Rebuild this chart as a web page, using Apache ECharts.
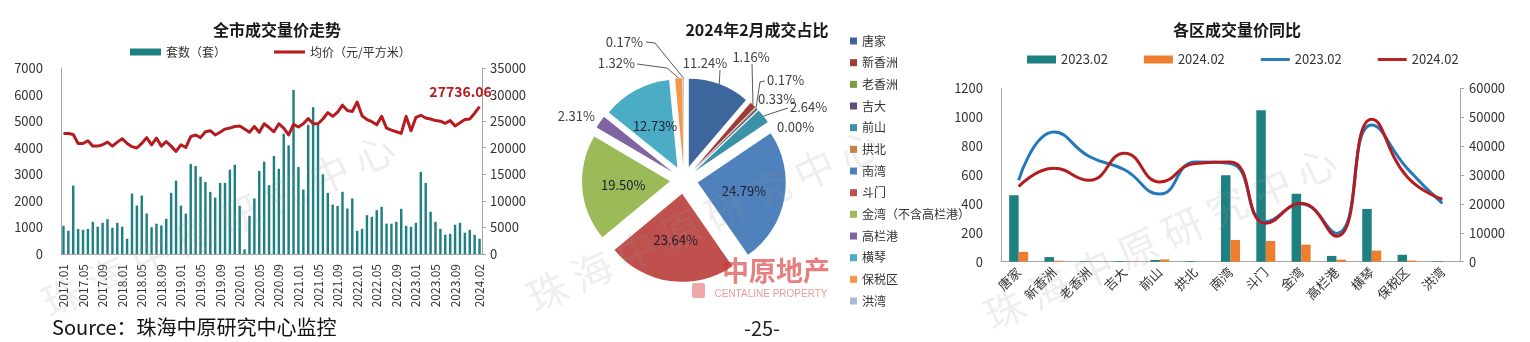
<!DOCTYPE html>
<html>
<head>
<meta charset="utf-8">
<title>珠海成交量价</title>
<script src="https://cdn.jsdelivr.net/npm/echarts@6/dist/echarts.min.js"></script>
<style>
  html, body { margin: 0; padding: 0; background: #ffffff; }
  #c { width: 1530px; height: 342px; }
</style>
</head>
<body>
<div id="c"></div>
<script>
// ---- 全市成交量价走势 (monthly) ----
const months = [
  '2017.01','2017.02','2017.03','2017.04','2017.05','2017.06','2017.07','2017.08','2017.09','2017.10','2017.11','2017.12',
  '2018.01','2018.02','2018.03','2018.04','2018.05','2018.06','2018.07','2018.08','2018.09','2018.10','2018.11','2018.12',
  '2019.01','2019.02','2019.03','2019.04','2019.05','2019.06','2019.07','2019.08','2019.09','2019.10','2019.11','2019.12',
  '2020.01','2020.02','2020.03','2020.04','2020.05','2020.06','2020.07','2020.08','2020.09','2020.10','2020.11','2020.12',
  '2021.01','2021.02','2021.03','2021.04','2021.05','2021.06','2021.07','2021.08','2021.09','2021.10','2021.11','2021.12',
  '2022.01','2022.02','2022.03','2022.04','2022.05','2022.06','2022.07','2022.08','2022.09','2022.10','2022.11','2022.12',
  '2023.01','2023.02','2023.03','2023.04','2023.05','2023.06','2023.07','2023.08','2023.09','2023.10','2023.11','2023.12',
  '2024.01','2024.02'
];
// 套数（套）
const volume = [
  1060, 875, 2575, 940, 910, 940, 1210, 1025, 1175, 1310, 990, 1175,
  1025, 575, 2275, 1825, 2200, 1525, 1010, 1140, 1075, 1325, 2300, 2760,
  1820, 1520, 3390, 3310, 2910, 2710, 2340, 2125, 2675, 2675, 3175, 3360,
  1810, 175, 1440, 2090, 3125, 3475, 2590, 3690, 3210, 4525, 4090, 6175,
  3275, 2425, 4860, 5525, 4860, 3000, 2300, 1860, 1810, 2340, 1710, 2090,
  875, 950, 1460, 1400, 1650, 1775, 1140, 1140, 1210, 1700, 1060, 1025,
  1175, 3090, 2675, 1590, 1210, 950, 725, 760, 1100, 1175, 800, 910,
  725, 575
];
// 均价（元/平方米）
const avgPrice = [
  22690, 22690, 22500, 20800, 20800, 21300, 20300, 20300, 20550, 21050, 20300, 21050,
  21700, 20800, 20200, 19950, 20800, 21900, 20550, 21800, 20300, 21150, 20300, 19300,
  20550, 20050, 22100, 22400, 21900, 23000, 23200, 22400, 22900, 23500, 23700, 24000,
  24100, 23500, 22900, 24000, 22900, 24500, 23800, 23000, 24500, 23700, 22400, 24400,
  23900, 24500, 25500, 24500, 24500, 25400, 26600, 25900, 26700, 28000, 27000, 26800,
  28600, 26000, 25300, 24900, 24300, 25900, 23700, 23300, 23000, 22700, 25900, 23200,
  25700, 26100, 25600, 25400, 25100, 25000, 24600, 25100, 24100, 24700, 25300, 25400,
  26500, 27736.06
];

// ---- 各区 ----
const districts = ['唐家','新香洲','老香洲','吉大','前山','拱北','南湾','斗门','金湾','高栏港','横琴','保税区','洪湾'];
const pieNames  = ['唐家','新香洲','老香洲','吉大','前山','拱北','南湾','斗门','金湾（不含高栏港）','高栏港','横琴','保税区','洪湾'];
const deals2302 = [460, 32, 4, 4, 12, 5, 598, 1048, 470, 40, 365, 48, 4];
const deals2402 = [68, 7, 1, 2, 16, 0, 150, 143, 118, 14, 77, 8, 1];
const price2302 = [28200, 44900, 36400, 31800, 23400, 34500, 34000, 13800, 20000, 9800, 47300, 32300, 20200];
const price2402 = [26000, 32300, 28200, 37500, 27600, 34000, 34500, 13300, 20200, 8800, 49300, 29400, 21600];

const FONT = '"Noto Sans CJK SC", "Noto Sans", sans-serif';
const TEAL = '#1F8081';
const DARKRED = '#B41C20';
const pieColors = ['#3D679C','#A23B38','#7E9B42','#624C84','#3A92A8','#C8803F',
                   '#4F81BD','#C0504D','#9BBB59','#8064A2','#4BACC6','#F79646','#A9BAD9'];
// thin bar used as the legend mark of a line series
const LINE_ICON = 'path://M0,0 H40 V4 H0 Z';

// pie geometry
const PIE_C = [684, 180];
const PIE_R = 88;
const PIE_SHIFT = 14;

// label anchors for the small slices: [x, y, align, guide-line points after the rim point]
// big slices carry their label inside
const pieLabelSpots = {
  0: [705, 63, 'center', [[720, 70]]],
  1: [751, 57, 'center', [[752, 64]]],
  2: [767, 80, 'left', [[760, 82], [765, 81]]],
  3: [758, 99, 'left', null],
  4: [790, 107, 'left', [[788, 108]]],
  5: [777, 127, 'left', null],
  9: [595, 116, 'right', null],
  11: [635, 63, 'right', [[667, 68], [637, 64]]],
  12: [643, 42, 'right', [[655, 43], [646, 42]]]
};

const total2402 = deals2402.reduce((a, b) => a + b, 0);
// mid angle of each slice, clockwise from 12 o'clock
const sliceMid = (() => {
  let acc = 0;
  return deals2402.map(v => { const m = (acc + v / 2) / total2402 * Math.PI * 2; acc += v; return m; });
})();

const pieData = pieNames.map((n, i) => {
  const inside = deals2402[i] / total2402 >= 0.12;
  const spot = pieLabelSpots[i];
  return {
    name: n,
    value: deals2402[i],
    selected: true,
    itemStyle: { color: pieColors[i] },
    label: inside ? { position: 'inside', color: '#1c1c2c' } : { position: 'outside' },
    labelLine: { show: !inside && !!(spot && spot[3]) }
  };
});

const axisGrey = '#A6A6A6';
const labelCol = '#333333';
const plain = v => String(v);

const chart = echarts.init(document.getElementById('c'), null, { renderer: 'canvas' });

const option = {
  animation: false,
  backgroundColor: '#ffffff',
  textStyle: { fontFamily: FONT },
  title: [
    { text: '全市成交量价走势', left: 272, top: 17, textAlign: 'center',
      textStyle: { fontSize: 16, fontWeight: 'bold', color: '#1a1a1a', fontFamily: FONT } },
    { text: '2024年2月成交占比', left: 752, top: 17, textAlign: 'center',
      textStyle: { fontSize: 16, fontWeight: 'bold', color: '#1a1a1a', fontFamily: FONT } },
    { text: '各区成交量价同比', left: 1232, top: 17, textAlign: 'center',
      textStyle: { fontSize: 16, fontWeight: 'bold', color: '#1a1a1a', fontFamily: FONT } }
  ],
  legend: [
    { left: 125, top: 41, itemWidth: 31, itemHeight: 7, itemGap: 48,
      data: [{ name: '套数（套）', icon: 'rect' }, { name: '均价（元/平方米）', icon: LINE_ICON }],
      textStyle: { fontSize: 12, color: labelCol, fontFamily: FONT } },
    { orient: 'vertical', left: 845, top: 29, itemWidth: 7, itemHeight: 7, itemGap: 7.67, icon: 'rect',
      data: pieNames,
      textStyle: { fontSize: 12, lineHeight: 14, color: labelCol, fontFamily: FONT } },
    { left: 1022, top: 48, itemWidth: 29, itemHeight: 8, itemGap: 36,
      data: [{ name: '2023.02 套数', icon: 'rect' }, { name: '2024.02 套数', icon: 'rect' },
             { name: '2023.02 均价', icon: LINE_ICON }, { name: '2024.02 均价', icon: LINE_ICON }],
      formatter: name => name.split(' ')[0],
      textStyle: { fontSize: 13, color: labelCol, fontFamily: FONT } }
  ],
  grid: [
    { left: 61, top: 68, width: 421, height: 186 },
    { left: 1001, top: 88.3, width: 459, height: 173.4 }
  ],
  xAxis: [
    { gridIndex: 0, type: 'category', data: months,
      axisLine: { lineStyle: { color: axisGrey } }, axisTick: { show: false },
      axisLabel: { rotate: 90, fontSize: 12, color: labelCol, margin: 10,
                   hideOverlap: false, showMaxLabel: true, showMinLabel: true,
                   interval: (i) => i % 4 === 0 || i === months.length - 1 } },
    { gridIndex: 1, type: 'category', data: districts,
      axisLine: { lineStyle: { color: axisGrey } }, axisTick: { show: false },
      axisLabel: { rotate: 45, interval: 0, fontSize: 13, color: labelCol, margin: 8, hideOverlap: false } }
  ],
  yAxis: [
    { gridIndex: 0, type: 'value', min: 0, max: 7000, interval: 1000,
      axisLine: { show: true, lineStyle: { color: axisGrey } }, axisTick: { show: false },
      splitLine: { show: false }, axisLabel: { fontSize: 13, color: labelCol, margin: 18, formatter: plain } },
    { gridIndex: 0, type: 'value', position: 'right', min: 0, max: 35000, interval: 5000,
      axisLine: { show: true, lineStyle: { color: axisGrey } },
      axisTick: { show: true, length: 4, lineStyle: { color: axisGrey } },
      splitLine: { show: false }, axisLabel: { fontSize: 13, color: labelCol, margin: 8, formatter: plain } },
    { gridIndex: 1, type: 'value', min: 0, max: 1200, interval: 200,
      axisLine: { show: true, lineStyle: { color: axisGrey } }, axisTick: { show: false },
      splitLine: { show: false }, axisLabel: { fontSize: 13, color: labelCol, margin: 18, formatter: plain } },
    { gridIndex: 1, type: 'value', position: 'right', min: 0, max: 60000, interval: 10000,
      axisLine: { show: true, lineStyle: { color: axisGrey } },
      axisTick: { show: true, length: 4, lineStyle: { color: axisGrey } },
      splitLine: { show: false }, axisLabel: { fontSize: 13, color: labelCol, margin: 9, formatter: plain } }
  ],
  series: [
    { name: '套数（套）', type: 'bar', xAxisIndex: 0, yAxisIndex: 0, data: volume,
      barWidth: '50%', itemStyle: { color: TEAL } },
    { name: '均价（元/平方米）', type: 'line', xAxisIndex: 0, yAxisIndex: 1, data: avgPrice,
      symbol: 'none', lineStyle: { width: 3, color: DARKRED, join: 'round' }, itemStyle: { color: DARKRED },
      endLabel: { show: true, formatter: p => Number(p.value).toFixed(2),
                  align: 'center', verticalAlign: 'middle', distance: 0, offset: [-19, -15],
                  color: DARKRED, fontWeight: 'bold', fontSize: 14, fontFamily: FONT } },

    { name: '成交占比', type: 'pie', center: PIE_C, radius: PIE_R, startAngle: 90, clockwise: true,
      selectedMode: 'multiple', selectedOffset: PIE_SHIFT, avoidLabelOverlap: false,
      data: pieData,
      label: { fontSize: 13, color: '#404040', fontFamily: FONT,
               formatter: p => p.percent.toFixed(2) + '%' },
      labelLine: { length: 8, length2: 10, lineStyle: { color: '#595959', width: 1 } },
      labelLayout: (params) => {
        const i = params.dataIndex;
        const spot = pieLabelSpots[i];
        if (!spot) return {};
        // labels ride along with the pulled-out slice, so take that shift back out
        const a = sliceMid[i];
        const ox = PIE_SHIFT * Math.sin(a), oy = -PIE_SHIFT * Math.cos(a);
        const r = params.labelRect;
        const left = spot[2] === 'left' ? spot[0]
                   : spot[2] === 'right' ? spot[0] - r.width
                   : spot[0] - r.width / 2;
        const top = spot[1] - r.height / 2;
        const out = { dx: left - r.x - ox, dy: top - r.y - oy };
        if (spot[3]) {
          const rim = [PIE_C[0] + PIE_R * Math.sin(a), PIE_C[1] - PIE_R * Math.cos(a)];
          const pts = spot[3].map(p => [p[0] - ox, p[1] - oy]);
          if (pts.length === 1) pts.unshift([(rim[0] + pts[0][0]) / 2, (rim[1] + pts[0][1]) / 2]);
          out.labelLinePoints = [rim].concat(pts);
        }
        return out;
      },
      emphasis: { disabled: true } },

    { name: '2023.02 套数', type: 'bar', xAxisIndex: 1, yAxisIndex: 2, data: deals2302,
      barWidth: 9.5, barGap: '0%', itemStyle: { color: TEAL } },
    { name: '2024.02 套数', type: 'bar', xAxisIndex: 1, yAxisIndex: 2, data: deals2402,
      barWidth: 9.5, barGap: '0%', itemStyle: { color: '#EE7E2D' } },
    { name: '2023.02 均价', type: 'line', xAxisIndex: 1, yAxisIndex: 3, data: price2302,
      smooth: true, symbol: 'none', lineStyle: { width: 3, color: '#2479BA' }, itemStyle: { color: '#2479BA' } },
    { name: '2024.02 均价', type: 'line', xAxisIndex: 1, yAxisIndex: 3, data: price2402,
      smooth: true, symbol: 'none', lineStyle: { width: 3, color: DARKRED }, itemStyle: { color: DARKRED } }
  ],
  graphic: [
    // agency logo under the pie
    { type: 'rect', shape: { x: 692, y: 283, width: 13, height: 15, r: 2 },
      style: { fill: 'rgba(215,60,60,0.45)' }, z: 50 },
    { type: 'text', x: 776, y: 271, z: 50,
      style: { text: '中原地产', font: 'bold 27px ' + FONT, fill: 'rgba(215,50,50,0.62)',
               textAlign: 'center', textVerticalAlign: 'middle' } },
    { type: 'text', x: 771, y: 294, z: 50,
      style: { text: 'CENTALINE PROPERTY', font: '10px "Liberation Sans", sans-serif', fill: 'rgba(215,70,70,0.55)',
               textAlign: 'center', textVerticalAlign: 'middle' } },
    // watermarks
    { type: 'text', x: 218, y: 225, rotation: 0.43, z: 60,
      style: { text: '珠 海 中 原 研 究 中 心', font: '40px ' + FONT, fill: 'rgba(150,150,150,0.16)',
               textAlign: 'center', textVerticalAlign: 'middle' } },
    { type: 'text', x: 703, y: 220, rotation: 0.43, z: 60,
      style: { text: '珠 海 中 原 研 究 中 心', font: '40px ' + FONT, fill: 'rgba(150,150,150,0.16)',
               textAlign: 'center', textVerticalAlign: 'middle' } },
    { type: 'text', x: 1160, y: 238, rotation: 0.43, z: 60,
      style: { text: '珠 海 中 原 研 究 中 心', font: '40px ' + FONT, fill: 'rgba(150,150,150,0.16)',
               textAlign: 'center', textVerticalAlign: 'middle' } },
    // footer
    { type: 'text', x: 52, y: 327, z: 70,
      style: { text: 'Source：珠海中原研究中心监控', font: '20px ' + FONT, fill: '#111111',
               textAlign: 'left', textVerticalAlign: 'middle' } },
    { type: 'text', x: 762, y: 328, z: 70,
      style: { text: '-25-', font: '20px ' + FONT, fill: '#222222',
               textAlign: 'center', textVerticalAlign: 'middle' } }
  ]
};

chart.setOption(option);
</script>
</body>
</html>
